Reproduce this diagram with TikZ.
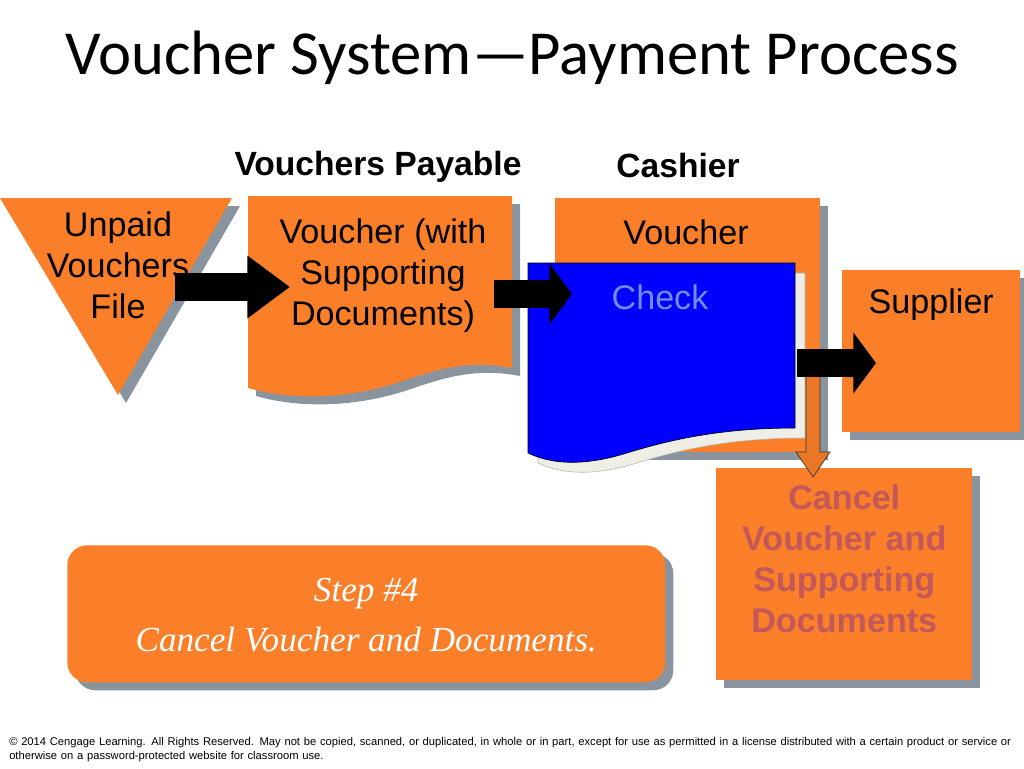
\documentclass[tikz,border=0pt]{standalone}
\usepackage{fontspec}
\setmainfont{Liberation Sans}
\newfontfamily\titlefont{Carlito}
\newfontfamily\stepfont{Liberation Serif}
\usepackage{tikz}
\usetikzlibrary{arrows.meta,positioning,calc,shadows}
\definecolor{voucherorange}{HTML}{FA7F28}
\definecolor{shadowgray}{HTML}{8A949E}
\definecolor{checkblue}{HTML}{0000FF}
\definecolor{checktext}{HTML}{6F8EDF}
\definecolor{checkshade}{HTML}{EEEEE6}
\definecolor{canceltext}{HTML}{C2585A}
\definecolor{downorange}{HTML}{EA7725}

\tikzset{
  shade/.style={drop shadow={shadow xshift=6pt,shadow yshift=-6pt,opacity=1,fill=shadowgray}},
  panel/.style={fill=voucherorange,shade},
  bodytext/.style={font=\fontsize{25.6}{30.7}\selectfont,align=center,inner sep=0pt},
  headtext/.style={font=\fontsize{25.2}{28}\selectfont\bfseries,inner sep=0pt},
  fatarrow/.style={draw=black,line width=21pt,
    -{Triangle[length=#1,width=45pt]}},
  fatarrow/.default=17pt
}

\begin{document}
\begin{tikzpicture}[x=0.75pt,y=-0.75pt]
  \useasboundingbox (0,0) rectangle (1024,768);

  \node[font=\titlefont\fontsize{47}{50}\selectfont,inner sep=0pt] (title) at (512,58)
       {Voucher System\textemdash Payment Process};
  \node[headtext] (vphead) at (378,167) {Vouchers Payable};
  \node[headtext] (cashhead) at (678,165) {Cashier};

  % unpaid vouchers file
  \path[panel] (0,198) -- (232,198) -- (118,395) -- cycle;
  \node[bodytext] (unpaid) at (118,265) {Unpaid\\Vouchers\\File};

  % voucher with documents
  \path[panel] (248,196) -- (512,196) -- (512,368)
       .. controls (470,360) and (440,368) .. (400,382)
       .. controls (345,400) and (290,400) .. (248,388) -- cycle;
  \node[bodytext] (vdocs) at (383,276) {Voucher (with\\Supporting\\Documents)};

  % cashier voucher and check
  \path[panel] (555,198) -- (820,198) -- (820,452) -- (555,452) -- cycle;
  \node[bodytext] (cvoucher) at (686,232) {Voucher};

  \path[fill=checkshade,draw=black!30,line width=0.4pt] (538,273) -- (805,273) -- (805,438)
       .. controls (730,438) and (680,450) .. (640,462)
       .. controls (600,475) and (565,476) .. (538,463) -- cycle;
  \path[fill=checkblue,draw=black,line width=0.5pt] (528,263) -- (795,263) -- (795,428)
       .. controls (720,428) and (670,440) .. (630,452)
       .. controls (590,465) and (555,466) .. (528,453) -- cycle;
  \node[bodytext,text=checktext] (check) at (660,297) {Check};

  % supplier and cancel
  \node[panel,minimum width=133.5pt,minimum height=121.5pt,anchor=north west]
       (supbox) at (842,270) {};
  \node[bodytext,anchor=north] (supplier) at ([yshift=-14pt]supbox.north) {Supplier};

  \node[panel,minimum width=192pt,minimum height=159pt,anchor=north west]
       (cancelbox) at (716,468) {};
  \node[bodytext,font=\fontsize{25.6}{30.7}\selectfont\bfseries,text=canceltext,anchor=north]
       (cancel) at ([yshift=-12.5pt]cancelbox.north) {Cancel\\Voucher and\\Supporting\\Documents};

  % step box
  \node[panel,rounded corners=15pt,minimum width=448.5pt,minimum height=102.75pt,
        anchor=north west] (stepbox) at (67,545) {};
  \node[font=\stepfont\itshape\fontsize{26.4}{37.5}\selectfont,text=white,align=center,
        inner sep=0pt] (step) at ([yshift=-1pt]stepbox.center) {Step \#4\\Cancel Voucher and Documents.};

  % flow arrows
  \coordinate (a1s) at (175,287);
  \coordinate (a1e) at (290,287);
  \coordinate (a2s) at (494,294);
  \coordinate (a2e) at (572,294);
  \coordinate (a3s) at (797,363);
  \coordinate (a3e) at (876,363);
  \draw[fatarrow=32pt] (a1s) -- (a1e);
  \draw[fatarrow] (a2s) -- (a2e);

  \coordinate (drop) at (813,376);
  \coordinate (droptip) at (813,477);
  \draw[fill=downorange,draw=black!80,line width=0.5pt]
       ($(drop)+(-7,0)$) -- ($(droptip)+(-7,-25)$) -- ($(droptip)+(-17,-25)$) -- (droptip)
       -- ($(droptip)+(17,-25)$) -- ($(droptip)+(7,-25)$) -- ($(drop)+(7,0)$) -- cycle;
  \draw[fatarrow] (a3s) -- (a3e);

  \node[font=\fontsize{8.4}{10.5}\selectfont,text width=770pt,align=left,anchor=north west,
        inner sep=0pt] (copyright) at (9,737)
       {\textcopyright{} 2014 Cengage Learning. All Rights Reserved. May not be copied, scanned, or duplicated, in whole or in part, except for use as permitted in a license distributed with a certain product or service or\\otherwise on a password-protected website for classroom use.};
\end{tikzpicture}
\end{document}
